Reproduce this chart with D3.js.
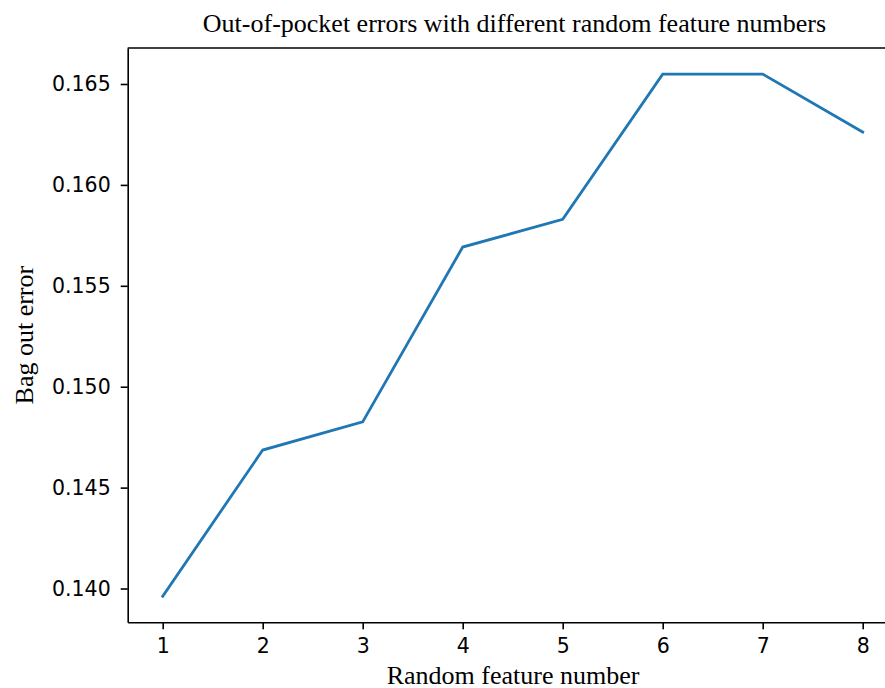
<!DOCTYPE html>
<html>
<head>
<meta charset="utf-8">
<script src="https://cdn.jsdelivr.net/npm/d3@7"></script>
<style>
  body { margin: 0; background: #fff; }
  svg { display: block; }
  .tick text { font-family: "DejaVu Sans", sans-serif; font-size: 20.5px; fill: #000; }
  .serif { font-family: "Liberation Serif", "Times New Roman", serif; fill: #000; }
</style>
</head>
<body>
<div id="chart"></div>
<script>
// Datos
const featureNumbers = [1, 2, 3, 4, 5, 6, 7, 8];
const oobErrors = [0.13962, 0.14686, 0.14826, 0.15692, 0.15829, 0.16549, 0.16549, 0.16262];
const yTicks = [0.140, 0.145, 0.150, 0.155, 0.160, 0.165];

const W = 885, H = 688;
let margin = {left: 127.7, top: 48, bottom: 65.7};

let svg = d3.select("#chart").append("svg")
    .attr("width", W)
    .attr("height", H);

// Eje X (margen 0.35 como matplotlib)
let x = d3.scaleLinear()
    .domain([d3.min(featureNumbers) - 0.35, d3.max(featureNumbers) + 0.35])
    .range([margin.left, margin.left + 770]);

// Eje Y (margen 5%)
let yMin = d3.min(oobErrors), yMax = d3.max(oobErrors), pad = (yMax - yMin) * 0.05;
let y = d3.scaleLinear()
    .domain([yMin - pad, yMax + pad])
    .range([H - margin.bottom, margin.top]);

let xAxis = svg.append("g")
    .attr("transform", "translate(0," + (H - margin.bottom) + ")")
    .call(d3.axisBottom(x).tickValues(featureNumbers).tickSizeInner(7).tickSizeOuter(0).tickPadding(9).tickFormat(d3.format("d")));

let yAxis = svg.append("g")
    .attr("transform", "translate(" + margin.left + ",0)")
    .call(d3.axisLeft(y).tickValues(yTicks).tickSizeInner(7).tickSizeOuter(0).tickPadding(10).tickFormat(d3.format(".3f")));

[xAxis, yAxis].forEach(function(g) {
    g.select(".domain").attr("stroke", "#000").attr("stroke-width", 1.6);
    g.selectAll(".tick line").attr("stroke", "#000").attr("stroke-width", 1.6);
});

// Borde superior
svg.append("line")
    .attr("x1", x.range()[0]).attr("x2", x.range()[1])
    .attr("y1", y.range()[1]).attr("y2", y.range()[1])
    .attr("stroke", "#000").attr("stroke-width", 1.6);

// Línea
let line = d3.line()
    .x(function(d, i) { return x(featureNumbers[i]); })
    .y(function(d) { return y(d); });

svg.append("path")
    .datum(oobErrors)
    .attr("d", line)
    .attr("fill", "none")
    .attr("stroke", "#1f77b4")
    .attr("stroke-width", 2.8)
    .attr("stroke-linejoin", "miter")
    .attr("stroke-linecap", "square");

// Textos
svg.append("text")
    .attr("class", "serif")
    .attr("x", 514.5).attr("y", 32)
    .attr("text-anchor", "middle")
    .style("font-size", "26px")
    .text("Out-of-pocket errors with different random feature numbers");

svg.append("text")
    .attr("class", "serif")
    .attr("x", 513).attr("y", 684)
    .attr("text-anchor", "middle")
    .style("font-size", "26px")
    .text("Random feature number");

svg.append("text")
    .attr("class", "serif")
    .attr("transform", "translate(33," + ((y.range()[0] + y.range()[1]) / 2) + ") rotate(-90)")
    .attr("text-anchor", "middle")
    .style("font-size", "26px")
    .text("Bag out error");
</script>
</body>
</html>
